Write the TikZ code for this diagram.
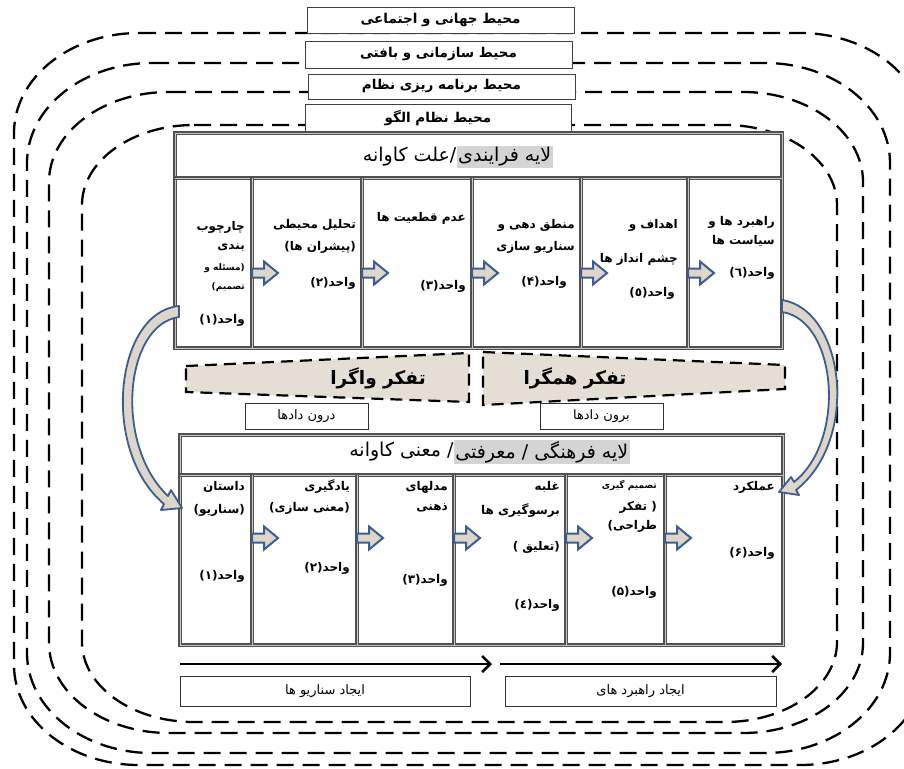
\documentclass[tikz,border=0pt]{standalone}
\usepackage{fontspec}
\usetikzlibrary{arrows.meta}
\TeXXeTstate=1
\newfontfamily\ar[Script=Arabic]{DejaVu Sans}
\definecolor{arblue}{RGB}{58,94,148}
\definecolor{arfill}{RGB}{222,214,200}
\definecolor{tanfill}{RGB}{228,222,212}
\definecolor{hlgray}{RGB}{212,212,212}
\definecolor{frame}{RGB}{80,80,80}
\newcommand\RL[1]{\beginR #1\endR}
\newcommand\ellrect[6]{%
 \draw[envline] ({#1+#5},#2) -- ({#3-#5},#2) .. controls ({#3-0.448*#5},#2) and (#3,{#2+0.448*#6}) .. (#3,{#2+#6})
 -- (#3,{#4-#6}) .. controls (#3,{#4-0.448*#6}) and ({#3-0.448*#5},#4) .. ({#3-#5},#4)
 -- ({#1+#5},#4) .. controls ({#1+0.448*#5},#4) and (#1,{#4-0.448*#6}) .. (#1,{#4-#6})
 -- (#1,{#2+#6}) .. controls (#1,{#2+0.448*#6}) and ({#1+0.448*#5},#2) .. ({#1+#5},#2) -- cycle;}
\tikzset{
 envline/.style={line width=2.3pt, dash pattern=on 17pt off 9pt},
 envbox/.style={draw=black!75, line width=0.9pt, fill=white, font=\ar\bfseries\fontsize{13.5}{15}\selectfont},
 frm/.style={draw=frame, double=black!22, double distance=0.9pt, line width=1.2pt},
 cell/.style={anchor=east, inner sep=0pt, font=\ar\bfseries\fontsize{12}{14}\selectfont},
 smallcell/.style={cell, font=\ar\bfseries\fontsize{9}{10}\selectfont},
 hdr/.style={anchor=east, inner sep=1.5pt, font=\ar\fontsize{19}{21}\selectfont},
 thinkshape/.style={draw=black, line width=2.2pt, dash pattern=on 12pt off 7pt, fill=tanfill},
 think/.style={font=\ar\bfseries\fontsize{18.5}{20}\selectfont, inner sep=0pt},
 databox/.style={draw=black!80, line width=0.9pt, fill=white, font=\ar\fontsize{13}{15}\selectfont},
 curv/.style={draw=arblue, line width=1.8pt, fill=arfill, line join=round},
 bigarrow/.style={line width=2.6pt, -{Straight Barb[length=8pt,width=16pt]}},
 blk/.pic={\draw[draw=arblue, line width=2pt, fill=arfill, line join=miter] (0,-4.5)--(12,-4.5)--(12,-11.5)--(26,0)--(12,11.5)--(12,4.5)--(0,4.5)--cycle;},
}
\begin{document}
\begin{tikzpicture}[x=1pt,y=-1pt]
\useasboundingbox (0,0) rectangle (904,768);
\fill[white] (0,0) rectangle (904,768);
\clip (0,0) rectangle (904,768);
% environment rings
\ellrect{14}{33}{925}{765}{125}{100}
\ellrect{27}{63}{890}{753}{125}{100}
\ellrect{49}{92}{863}{733}{120}{90}
\ellrect{82}{125}{837}{722}{112}{80}
% environment labels
\node[envbox, minimum width=267pt, minimum height=26pt] (env1) at (440.5,20) {\RL{محیط جهانی و اجتماعی}};
\node[envbox, minimum width=267pt, minimum height=27pt] (env2) at (438.5,54.5) {\RL{محیط سازمانی و بافتی}};
\node[envbox, minimum width=267pt, minimum height=25pt] (env3) at (441.5,86.5) {\RL{محیط برنامه ریزی نظام}};
\node[envbox, minimum width=266pt, minimum height=28pt] (env4) at (438,118) {\RL{محیط نظام الگو}};
% upper layer frame
\fill[white] (175,133) rectangle (782,348);
\draw[frm] (175,133) rectangle (782,348);
\draw[frm] (175,178) -- (782,178);
\foreach \x in {252,362,472,581,688} \draw[frm] (\x,178) -- (\x,348);
\node[hdr, fill=hlgray] (uh1) at (553,157) {\RL{لایه فرایندی}};
\node[hdr, inner xsep=0pt] (uh2) at (uh1.west) {\RL{/علت کاوانه}};
% upper cells
\node[cell] (u1a) at (245,227) {\RL{چارچوب}};
\node[cell] (u1b) at (245,248) {\RL{بندی}};
\node[smallcell] (u1c) at (245,268) {\RL{(مسئله و}};
\node[smallcell] (u1d) at (245,287) {\RL{تصمیم)}};
\node[cell] (u1e) at (245,320) {\RL{واحد(۱)}};
\node[cell] (u2a) at (356,225) {\RL{تحلیل محیطی}};
\node[cell] (u2b) at (356,247) {\RL{(پیشران ها)}};
\node[cell] (u2c) at (356,283) {\RL{واحد(۲)}};
\node[cell] (u3a) at (466,218) {\RL{عدم قطعیت ها}};
\node[cell] (u3b) at (466,286) {\RL{واحد(۳)}};
\node[cell] (u4a) at (575,225) {\RL{منطق دهی و}};
\node[cell] (u4b) at (575,247) {\RL{سناریو سازی}};
\node[cell] (u4c) at (567,282) {\RL{واحد(۴)}};
\node[cell] (u5a) at (678,225) {\RL{اهداف و}};
\node[cell] (u5b) at (678,259) {\RL{چشم انداز ها}};
\node[cell] (u5c) at (675,293) {\RL{واحد(٥)}};
\node[cell] (u6a) at (775,222) {\RL{راهبرد ها و}};
\node[cell] (u6b) at (775,241) {\RL{سیاست ها}};
\node[cell] (u6c) at (775,273) {\RL{واحد(٦)}};
\foreach \x in {252,362,472,581,688} \pic at (\x,273) {blk};
% thinking shapes
\draw[thinkshape] (186,366) -- (469,353) -- (469,402) -- (186,392) -- cycle;
\draw[thinkshape] (483,352) -- (785,365) -- (785,389) -- (483,405) -- cycle;
\node[think] (div) at (378,378) {\RL{تفکر واگرا}};
\node[think] (conv) at (575,378) {\RL{تفکر همگرا}};
\node[databox, minimum width=123pt, minimum height=26pt] (din) at (306.5,416) {\RL{درون دادها}};
\node[databox, minimum width=123pt, minimum height=26pt] (dout) at (601.5,416) {\RL{برون دادها}};
% lower layer frame
\fill[white] (180,435) rectangle (783,645);
\draw[frm] (180,435) rectangle (783,645);
\draw[frm] (180,475) -- (783,475);
\foreach \x in {252,357,454,566,665} \draw[frm] (\x,475) -- (\x,645);
\node[hdr, fill=hlgray] (lh1) at (630,452) {\RL{لایه فرهنگی / معرفتی}};
\node[hdr, inner xsep=0pt] (lh2) at (lh1.west) {\RL{/ معنی کاوانه}};
% lower cells
\node[cell] (l1a) at (245,487) {\RL{داستان}};
\node[cell] (l1b) at (245,510) {\RL{(سناریو)}};
\node[cell] (l1c) at (245,576) {\RL{واحد(۱)}};
\node[cell] (l2a) at (350,487) {\RL{یادگیری}};
\node[cell] (l2b) at (350,508) {\RL{(معنی سازی)}};
\node[cell] (l2c) at (350,568) {\RL{واحد(۲)}};
\node[cell] (l3a) at (448,487) {\RL{مدلهای}};
\node[cell] (l3b) at (448,508) {\RL{ذهنی}};
\node[cell] (l3c) at (448,580) {\RL{واحد(۳)}};
\node[cell] (l4a) at (560,487) {\RL{غلبه}};
\node[cell] (l4b) at (560,510) {\RL{برسوگیری ها}};
\node[cell] (l4c) at (560,547) {\RL{(تعلیق )}};
\node[cell] (l4d) at (560,605) {\RL{واحد(٤)}};
\node[smallcell] (l5a) at (657,485) {\RL{تصمیم گیری}};
\node[cell] (l5b) at (657,507) {\RL{( تفکر}};
\node[cell] (l5c) at (657,526) {\RL{طراحی)}};
\node[cell] (l5d) at (657,592) {\RL{واحد(۵)}};
\node[cell] (l6a) at (775,487) {\RL{عملکرد}};
\node[cell] (l6b) at (775,553) {\RL{واحد(۶)}};
\foreach \x in {252,357,454,566,665} \pic at (\x,538) {blk};
% curved arrows between layers
\draw[curv] (179,306) .. controls (115,312) and (100,450) .. (164,504) -- (161,510) -- (182,508) -- (171,490) -- (168,496) .. controls (114,445) and (124,325) .. (179,317) -- cycle;
\draw[curv] (782,300) .. controls (845,310) and (860,440) .. (796,490) -- (799,495) -- (779,492) -- (791,477) -- (794,482) .. controls (847,440) and (837,320) .. (782,312) -- cycle;
% bottom arrows and labels
\coordinate (a1s) at (180,664);
\coordinate (a1e) at (492,664);
\coordinate (a2s) at (500,664);
\coordinate (a2e) at (782,664);
\draw[bigarrow] (a1s) -- (a1e);
\draw[bigarrow] (a2s) -- (a2e);
\node[databox, minimum width=290pt, minimum height=30pt] (mk1) at (325,691) {\RL{ایجاد سناریو ها}};
\node[databox, minimum width=271pt, minimum height=30pt] (mk2) at (640.5,691) {\RL{ایجاد راهبرد های}};
\end{tikzpicture}
\end{document}
